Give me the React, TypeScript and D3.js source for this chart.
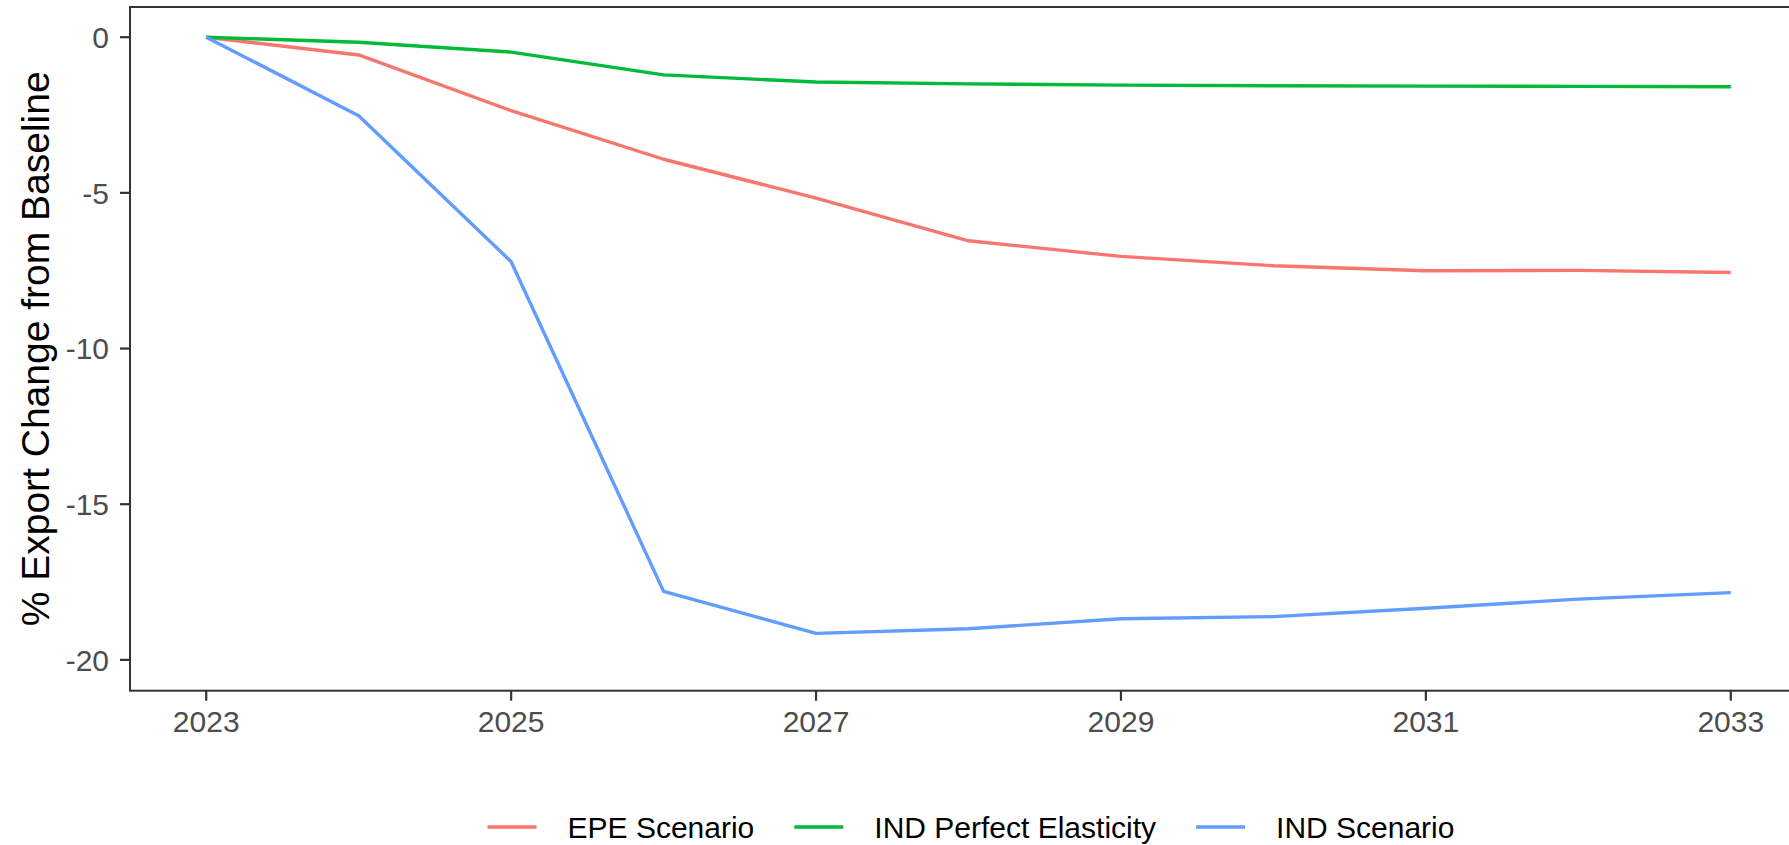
import React, { useEffect, useRef } from "react";
import * as d3 from "d3";

const years = [2023, 2024, 2025, 2026, 2027, 2028, 2029, 2030, 2031, 2032, 2033];
const epeScenario = [0, -0.57, -2.36, -3.92, -5.17, -6.54, -7.04, -7.34, -7.5, -7.49, -7.56];
const indPerfectElasticity = [0, -0.16, -0.48, -1.21, -1.44, -1.5, -1.54, -1.56, -1.57, -1.58, -1.59];
const indScenario = [0, -2.52, -7.21, -17.8, -19.15, -19.0, -18.68, -18.61, -18.34, -18.05, -17.84];
const seriesNames = ["EPE Scenario", "IND Perfect Elasticity", "IND Scenario"];
const seriesColors = ["#F8766D", "#00BA38", "#619CFF"];
const xTicks = [2023, 2025, 2027, 2029, 2031, 2033];
const yTicks = [0, -5, -10, -15, -20];
const yTitle = "% Export Change from Baseline";

const W = 1789;
const H = 845;
const FONT = "'Liberation Sans', Arial, sans-serif";

export default function App() {
  const ref = useRef<SVGSVGElement | null>(null);

  useEffect(() => {
    const svg = d3.select(ref.current);
    svg.selectAll("*").remove();

    const left = 130, right = 1807, top = 7, bottom = 690.7;
    const x = d3.scaleLinear().domain([2022.5, 2033.5]).range([left, right]);
    const y = d3.scaleLinear().domain([-20.99, 0.97]).range([bottom, top]);

    svg.append("rect").attr("x", 0).attr("y", 0).attr("width", W).attr("height", H).attr("fill", "#fff");

    const allSeries = [epeScenario, indPerfectElasticity, indScenario];
    const line = d3
      .line<number>()
      .x((_, i) => x(years[i]))
      .y((d) => y(d));
    allSeries.forEach((s, i) => {
      svg
        .append("path")
        .attr("d", line(s) as string)
        .attr("fill", "none")
        .attr("stroke", seriesColors[i])
        .attr("stroke-width", 3.4)
        .attr("stroke-linejoin", "round");
    });

    svg
      .append("rect")
      .attr("x", left)
      .attr("y", top)
      .attr("width", right - left)
      .attr("height", bottom - top)
      .attr("fill", "none")
      .attr("stroke", "#333333")
      .attr("stroke-width", 2);

    yTicks.forEach((t) => {
      svg
        .append("line")
        .attr("x1", left - 10)
        .attr("x2", left)
        .attr("y1", y(t))
        .attr("y2", y(t))
        .attr("stroke", "#333333")
        .attr("stroke-width", 2.2);
      svg
        .append("text")
        .attr("x", left - 21)
        .attr("y", y(t))
        .attr("dy", "0.36em")
        .attr("text-anchor", "end")
        .attr("font-family", FONT)
        .attr("font-size", 30)
        .attr("fill", "#4D4D4D")
        .text(String(t));
    });

    xTicks.forEach((t) => {
      svg
        .append("line")
        .attr("x1", x(t))
        .attr("x2", x(t))
        .attr("y1", bottom)
        .attr("y2", bottom + 10)
        .attr("stroke", "#333333")
        .attr("stroke-width", 2.2);
      svg
        .append("text")
        .attr("x", x(t))
        .attr("y", 732)
        .attr("text-anchor", "middle")
        .attr("font-family", FONT)
        .attr("font-size", 30)
        .attr("fill", "#4D4D4D")
        .text(String(t));
    });

    svg
      .append("text")
      .attr("transform", `translate(49, ${(top + bottom) / 2}) rotate(-90)`)
      .attr("text-anchor", "middle")
      .attr("font-family", FONT)
      .attr("font-size", 39)
      .attr("fill", "#000")
      .text(yTitle);

    // legend
    const legendFont = 30;
    const keyW = 49, keyGap = 31, itemGap = 40;
    const measure = svg
      .append("text")
      .attr("font-family", FONT)
      .attr("font-size", legendFont)
      .attr("visibility", "hidden");
    const widths = seriesNames.map((n) => {
      measure.text(n);
      return (measure.node() as SVGTextElement).getComputedTextLength();
    });
    measure.remove();
    const total =
      widths.reduce((a, b) => a + b, 0) + seriesNames.length * (keyW + keyGap) + (seriesNames.length - 1) * itemGap;
    const legendCenter = 971;
    const keyY = 827;
    const textBaseline = 837.5;
    let cx = legendCenter - total / 2;
    seriesNames.forEach((n, i) => {
      svg
        .append("line")
        .attr("x1", cx)
        .attr("x2", cx + keyW)
        .attr("y1", keyY)
        .attr("y2", keyY)
        .attr("stroke", seriesColors[i])
        .attr("stroke-width", 3.4);
      svg
        .append("text")
        .attr("x", cx + keyW + keyGap)
        .attr("y", textBaseline)
        .attr("font-family", FONT)
        .attr("font-size", legendFont)
        .attr("fill", "#000")
        .text(n);
      cx += keyW + keyGap + widths[i] + itemGap;
    });
  }, []);

  return (
    <svg
      ref={ref}
      width={W}
      height={H}
      style={{ position: "absolute", left: 0, top: 0, display: "block" }}
    />
  );
}
